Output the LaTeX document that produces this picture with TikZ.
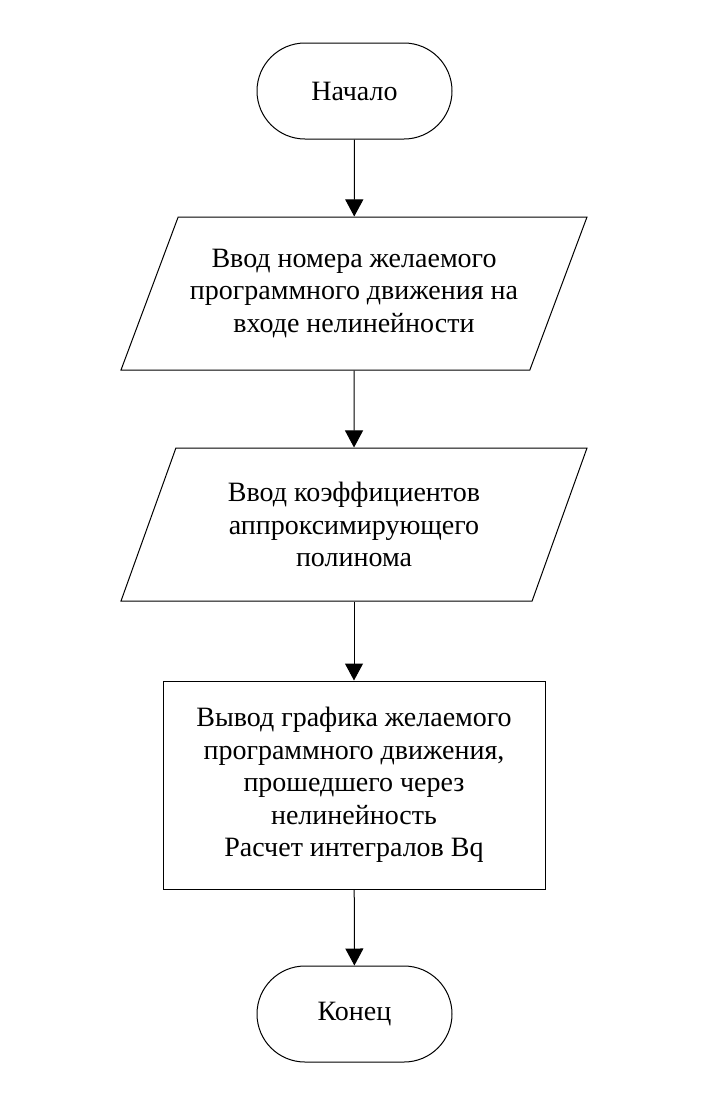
\documentclass[tikz,border=0pt]{standalone}
\usepackage{fontspec}
\setmainfont{Liberation Serif}
\usetikzlibrary{shapes.geometric,arrows.meta}

\begin{document}
\begin{tikzpicture}[x=0.5pt, y=-0.5pt, line width=0.5pt,
  font=\fontsize{14}{16.3}\selectfont,
  term/.style={draw, rectangle, rounded corners=24pt, minimum width=97.5pt, minimum height=48pt},
  io/.style={draw, trapezium, trapezium left angle=60.8, trapezium right angle=119.2,
    trapezium stretches body, minimum width=233pt, minimum height=76.5pt, align=center},
  proc/.style={draw, rectangle, minimum width=191pt, minimum height=104pt, align=center},
  >={Triangle[length=8.5pt, width=9pt]}]
\useasboundingbox (0,0) rectangle (721,1108);
\node[term] (B_0) at (354.5,91) {Начало};
\node[io] (B_1) at (354,293.5) {Ввод номера желаемого\\программного движения на\\входе нелинейности};
\draw[->] (B_0) -- (B_1);
\node[io] (B_2) at (354,524.5) {Ввод коэффициентов\\аппроксимирующего\\полинома};
\draw[->] (B_1) -- (B_2);
\node[proc] (B_3) at (354,785) {Вывод графика желаемого\\программного движения,\\прошедшего через\\нелинейность\\Расчет интегралов Bq};
\draw[->] (B_2) -- (B_3);
\node[term] (B_4) at (354.5,1014) {Конец};
\draw[->] (B_3) -- (B_4);
\end{tikzpicture}
\end{document}
